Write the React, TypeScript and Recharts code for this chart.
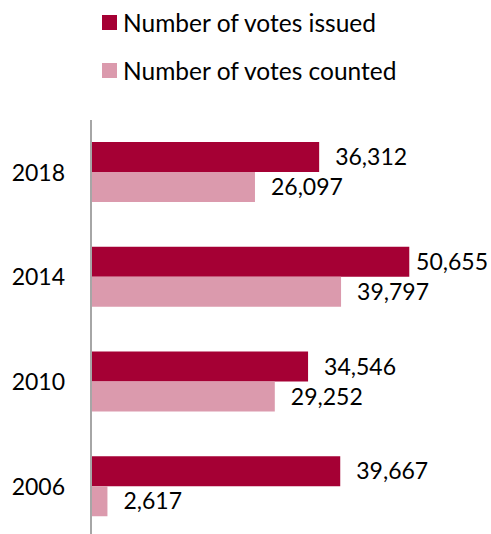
import { Bar, BarChart, LabelList, Legend, XAxis, YAxis } from "recharts";

const years = ["2018", "2014", "2010", "2006"];
const votesIssued = [36312, 50655, 34546, 39667];
const votesCounted = [26097, 39797, 29252, 2617];

const seriesNames = ["Number of votes issued", "Number of votes counted"];
const colors = ["#A50034", "#DB9AAD"];

const data = years.map((year, i) => ({
  year,
  issued: votesIssued[i],
  counted: votesCounted[i],
}));

const FONT = "Lato, 'Open Sans', sans-serif";

const fmt = (v: number) => v.toLocaleString("en-US");

// value labels to the right of the bar, pulled back in if they run off the edge
const renderLabel = (props: any) => {
  const { x, y, width, height, value } = props;
  const text = fmt(Number(value));
  const est = text.length * 12.2;
  let tx = Number(x) + Number(width) + 16;
  let anchor: "start" | "end" = "start";
  if (tx + est > 488) {
    tx = 488;
    anchor = "end";
  }
  return (
    <text
      x={tx}
      y={Number(y) + Number(height) / 2}
      dy="0.355em"
      textAnchor={anchor}
      fill="#000"
      fontSize={23}
      fontFamily={FONT}
    >
      {text}
    </text>
  );
};

const LegendBox = () => (
  <div style={{ position: "relative", width: 491, height: 100, fontFamily: FONT }}>
    {seriesNames.map((name, i) => (
      <div
        key={name}
        style={{
          position: "absolute",
          left: 102,
          top: 7 + i * 48,
          height: 30,
          display: "flex",
          alignItems: "center",
          fontSize: 24.5,
          color: "#000",
          whiteSpace: "nowrap",
        }}
      >
        <span style={{ display: "inline-block", width: 15, height: 15, background: colors[i], marginRight: 6 }} />
        {name}
      </div>
    ))}
  </div>
);

export default function App() {
  return (
    <div style={{ position: "absolute", left: 0, top: 0, width: 491, height: 534, overflow: "hidden", background: "#fff" }}>
      <BarChart
        width={491}
        height={539}
        data={data}
        layout="vertical"
        barSize={30}
        barGap={0}
        margin={{ top: 120, right: 23, left: 0, bottom: 0 }}
      >
        <Legend
          layout="vertical"
          verticalAlign="middle"
          align="center"
          wrapperStyle={{ top: 0, left: 0, width: 491 }}
          content={() => <LegendBox />}
        />
        <XAxis type="number" domain={[0, 60000]} hide />
        <YAxis
          type="category"
          dataKey="year"
          width={91}
          tickLine={false}
          tickSize={0}
          tickMargin={26}
          axisLine={{ stroke: "#A6A6A6", strokeWidth: 2 }}
          tick={{ fill: "#000", fontSize: 23, fontFamily: FONT }}
        />
        <Bar dataKey="issued" name={seriesNames[0]} fill={colors[0]} isAnimationActive={false}>
          <LabelList dataKey="issued" content={renderLabel} />
        </Bar>
        <Bar dataKey="counted" name={seriesNames[1]} fill={colors[1]} isAnimationActive={false}>
          <LabelList dataKey="counted" content={renderLabel} />
        </Bar>
      </BarChart>
    </div>
  );
}
